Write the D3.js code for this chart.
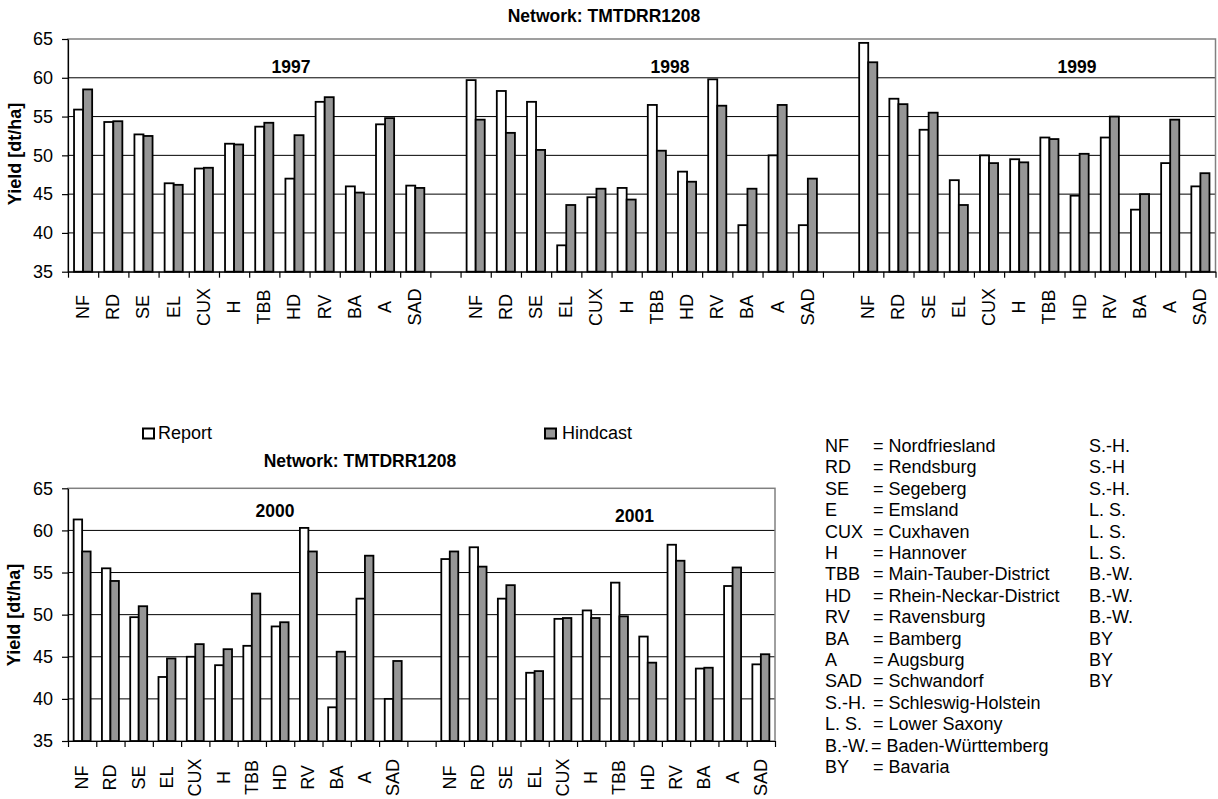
<!DOCTYPE html>
<html>
<head>
<meta charset="utf-8">
<script src="https://cdn.jsdelivr.net/npm/d3@7/dist/d3.min.js"></script>
<style>
  html, body { margin: 0; padding: 0; background: #fff; }
  svg { display: block; font-family: "Liberation Sans", Arial, sans-serif; }
</style>
</head>
<body>
<svg id="chart" width="1218" height="799"></svg>
<script>
// ---------------- DATA ----------------
const categories = ["NF","RD","SE","EL","CUX","H","TBB","HD","RV","BA","A","SAD"];
const yTicks = [35, 40, 45, 50, 55, 60, 65];
const seriesNames = ["Report", "Hindcast"];
const networkTitle = "Network: TMTDRR1208";

const report1997   = [55.9, 54.3, 52.7, 46.4, 48.3, 51.5, 53.7, 47.0, 56.9, 46.0, 54.0, 46.1];
const hindcast1997 = [58.5, 54.4, 52.5, 46.2, 48.4, 51.4, 54.2, 52.6, 57.5, 45.2, 54.8, 45.8];
const report1998   = [59.7, 58.3, 56.9, 38.4, 44.6, 45.8, 56.5, 47.9, 59.8, 41.0, 50.0, 41.0];
const hindcast1998 = [54.6, 52.9, 50.7, 43.6, 45.7, 44.3, 50.6, 46.6, 56.4, 45.7, 56.5, 47.0];
const report1999   = [64.5, 57.3, 53.3, 46.8, 50.0, 49.5, 52.3, 44.8, 52.3, 43.0, 49.0, 46.0];
const hindcast1999 = [62.0, 56.6, 55.5, 43.6, 49.0, 49.1, 52.1, 50.2, 55.0, 45.0, 54.6, 47.7];
const report2000   = [61.3, 55.5, 49.7, 42.6, 45.0, 44.0, 46.3, 48.6, 60.3, 39.0, 51.9, 40.0];
const hindcast2000 = [57.5, 54.0, 51.0, 44.8, 46.5, 45.9, 52.5, 49.1, 57.5, 45.6, 57.0, 44.5];
const report2001   = [56.6, 58.0, 51.9, 43.1, 49.5, 50.5, 53.8, 47.4, 58.3, 43.6, 53.4, 44.1];
const hindcast2001 = [57.5, 55.7, 53.5, 43.3, 49.6, 49.6, 49.8, 44.3, 56.4, 43.7, 55.6, 45.3];

const legendAbbr   = ["NF","RD","SE","E","CUX","H","TBB","HD","RV","BA","A","SAD","S.-H.","L. S.","B.-W.","BY"];
const legendNames  = ["Nordfriesland","Rendsburg","Segeberg","Emsland","Cuxhaven","Hannover",
                      "Main-Tauber-District","Rhein-Neckar-District","Ravensburg","Bamberg","Augsburg",
                      "Schwandorf","Schleswig-Holstein","Lower Saxony","Baden-Württemberg","Bavaria"];
const legendStates = ["S.-H.","S.-H","S.-H.","L. S.","L. S.","L. S.","B.-W.","B.-W.","B.-W.","BY","BY","BY","","","",""];

// ---------------- DRAW ----------------
const svg = d3.select("#chart");
const FILL = { Report: "#ffffff", Hindcast: "#969696" };

function drawChart(cfg) {
  const slots = [];
  cfg.years.forEach((yr, yi) => {
    if (yi > 0) slots.push({ gap: true });
    categories.forEach((c, ci) => {
      slots.push({ label: c, year: yr, Report: cfg.report[yi][ci], Hindcast: cfg.hind[yi][ci] });
    });
  });
  const n = slots.length;
  const g = svg.append("g");

  const x = d3.scaleBand().domain(d3.range(n)).range([cfg.left, cfg.right])
              .paddingInner(0.4).paddingOuter(0.2);
  const xs = d3.scaleBand().domain(seriesNames).range([0, x.bandwidth()]);
  const xIdx = d3.scaleLinear().domain([0, n]).range([cfg.left, cfg.right]);
  const y = d3.scaleLinear().domain([35, 65]).range([cfg.bottom, cfg.top]);

  g.append("g").selectAll("line").data(yTicks.filter(t => t > 35 && t < 65)).join("line")
    .attr("x1", cfg.left).attr("x2", cfg.right)
    .attr("y1", d => y(d)).attr("y2", d => y(d))
    .attr("stroke", "#000").attr("stroke-width", 1);

  g.append("rect").attr("x", cfg.left).attr("y", y(65))
    .attr("width", cfg.right - cfg.left).attr("height", y(35) - y(65))
    .attr("fill", "none").attr("stroke", "#808080").attr("stroke-width", 1.5);

  const data = [];
  slots.forEach((s, i) => { if (!s.gap) seriesNames.forEach(k => data.push({ i, k, v: s[k] })); });
  g.append("g").selectAll("rect").data(data).join("rect")
    .attr("x", d => x(d.i) + xs(d.k))
    .attr("width", xs.bandwidth())
    .attr("y", d => y(d.v))
    .attr("height", d => y(35) - y(d.v))
    .attr("fill", d => FILL[d.k])
    .attr("stroke", "#000").attr("stroke-width", 1.8);

  const ya = g.append("g").attr("transform", `translate(${cfg.left},0)`)
    .call(d3.axisLeft(y).tickValues(yTicks).tickSize(6).tickPadding(9).tickSizeOuter(0));
  ya.selectAll("text").attr("font-size", 18).attr("fill", "#000")
    .attr("font-family", "Liberation Sans, Arial, sans-serif");
  ya.selectAll("line,path").attr("stroke", "#000").attr("stroke-width", 1.2);

  const xa = g.append("g").attr("transform", `translate(0,${cfg.bottom})`)
    .call(d3.axisBottom(xIdx).tickValues(d3.range(n + 1)).tickFormat("").tickSize(6).tickSizeOuter(0));
  xa.selectAll("line,path").attr("stroke", "#000").attr("stroke-width", 1.2);

  g.append("g").selectAll("text").data(slots.map((s, i) => ({ s, i })).filter(d => !d.s.gap)).join("text")
    .attr("transform", d => `translate(${x(d.i) + x.bandwidth() / 2},${cfg.labelY}) rotate(-90)`)
    .attr("text-anchor", "middle").attr("dominant-baseline", "central")
    .attr("font-size", 18).text(d => d.s.label);

  cfg.yearPos.forEach((p, yi) => {
    g.append("text").attr("x", p[0]).attr("y", p[1]).attr("text-anchor", "middle")
      .attr("font-size", 17.5).attr("font-weight", "bold").text(cfg.years[yi]);
  });

  g.append("text").attr("x", cfg.titlePos[0]).attr("y", cfg.titlePos[1]).attr("text-anchor", "middle")
    .attr("font-size", 17.5).attr("font-weight", "bold").text(networkTitle);

  g.append("text").attr("transform", `translate(${cfg.yTitlePos[0]},${cfg.yTitlePos[1]}) rotate(-90)`)
    .attr("text-anchor", "middle").attr("dominant-baseline", "central")
    .attr("font-size", 18).attr("font-weight", "bold").text("Yield [dt/ha]");
}

drawChart({
  years: ["1997", "1998", "1999"],
  report: [report1997, report1998, report1999],
  hind: [hindcast1997, hindcast1998, hindcast1999],
  left: 68, right: 1215.5, top: 39, bottom: 271.7,
  labelY: 307,
  yearPos: [[291, 73], [670, 73], [1077, 73]],
  titlePos: [604, 22],
  yTitlePos: [15, 154]
});

drawChart({
  years: ["2000", "2001"],
  report: [report2000, report2001],
  hind: [hindcast2000, hindcast2001],
  left: 68, right: 775, top: 488.3, bottom: 741,
  labelY: 777.5,
  yearPos: [[275, 517], [634.5, 521.5]],
  titlePos: [360, 467],
  yTitlePos: [14, 615]
});

const legPos = [[143, 158], [545, 562]];
seriesNames.forEach((s, i) => {
  svg.append("rect").attr("x", legPos[i][0]).attr("y", 428.5).attr("width", 11).attr("height", 10)
    .attr("fill", FILL[s]).attr("stroke", "#000").attr("stroke-width", 2);
  svg.append("text").attr("x", legPos[i][1]).attr("y", 439).attr("font-size", 18).text(s);
});

const lg = svg.append("g").attr("font-size", 18);
legendAbbr.forEach((a, i) => {
  const by = 452 + i * 21.4;
  lg.append("text").attr("x", 825).attr("y", by).text(a);
  lg.append("text").attr("x", a === "B.-W." ? 871 : 873).attr("y", by).text("= " + legendNames[i]);
  if (legendStates[i]) lg.append("text").attr("x", 1089).attr("y", by).text(legendStates[i]);
});
</script>
</body>
</html>
